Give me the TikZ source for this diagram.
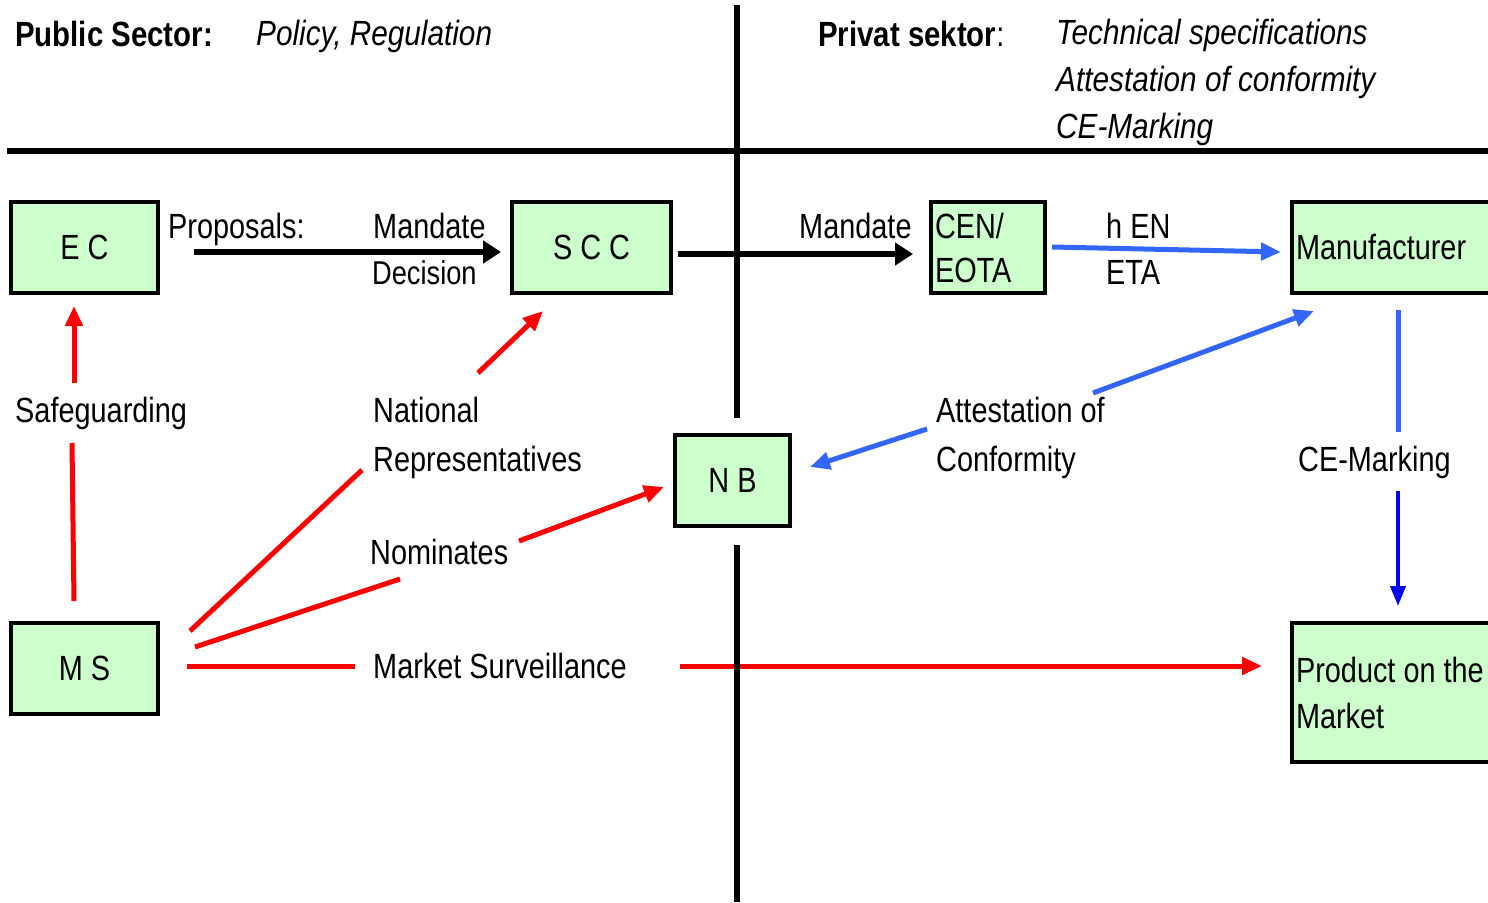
\documentclass[tikz,border=0pt]{standalone}
\usepackage{fontspec}
\setmainfont{Liberation Sans}[FakeStretch=0.825,
  BoldFeatures={FakeStretch=0.84}, ItalicFeatures={FakeStretch=0.85}]
\usetikzlibrary{arrows.meta}
\definecolor{boxgreen}{HTML}{CCFFCC}
\definecolor{linkred}{HTML}{FF0000}
\definecolor{linkblue}{HTML}{3366FF}
\definecolor{markblue}{HTML}{0000FF}
\tikzset{
  lbl/.style={inner sep=0pt, anchor=base west, font=\fontsize{35}{49}\selectfont, align=flush left},
  organ/.style={draw=black, line width=4pt, fill=boxgreen, inner sep=0pt,
                font=\fontsize{35}{44}\selectfont},
  leftorgan/.style={organ, align=flush left, inner xsep=4pt},
  divider/.style={line width=6pt, black},
  blackarrow/.style={line width=6pt, black, -{Triangle[length=18pt,width=22pt]}},
  redline/.style={line width=5pt, linkred},
  redarrow/.style={redline, -{Triangle[length=20pt,width=17pt]}},
  blueline/.style={line width=5pt, linkblue},
  bluearrow/.style={blueline, -{Triangle[length=20pt,width=17pt]}},
  markarrow/.style={line width=4pt, markblue, -{Triangle[length=20pt,width=15pt]}},
}
\begin{document}
\begin{tikzpicture}[x=1pt,y=-1pt]
\useasboundingbox (0,0) rectangle (1488,902);
\clip (0,0) rectangle (1488,902);

% headings
\node[lbl, font=\fontsize{35}{47}\selectfont\bfseries] (pubhead) at (15,46) {Public Sector:};
\node[lbl, font=\fontsize{35}{47}\selectfont\itshape] (pubtopics) at (256,45) {Policy, Regulation};
\node[lbl, font=\fontsize{35}{47}\selectfont] (privhead) at (818,46) {\textbf{Privat sektor}:};
\node[lbl, font=\fontsize{35}{47}\selectfont\itshape] (privtopics) at (1056,138)
  {Technical specifications\\Attestation of conformity\\CE-Marking};

% bodies
\node[organ, minimum width=147pt, minimum height=91pt] (ec) at (84.5,247.5) {E C};
\node[organ, minimum width=159pt, minimum height=91pt] (scc) at (591.5,247.5) {S C C};
\node[leftorgan, minimum width=114pt, minimum height=91pt, text width=106pt] (cen) at (988,247.5) {CEN/\\EOTA};
\node[leftorgan, minimum width=308pt, minimum height=91pt, text width=300pt] (manu) at (1446,247.5) {Manufacturer};
\node[organ, minimum width=115pt, minimum height=91pt] (nb) at (732.5,480.5) {N B};
\node[organ, minimum width=147pt, minimum height=91pt] (ms) at (84.5,668.5) {M S};
\node[leftorgan, minimum width=308pt, minimum height=139pt, text width=300pt,
      font=\fontsize{35}{46}\selectfont] (prod) at (1446,692.5) {Product on the\\Market};

% labels
\node[lbl] (proposals) at (168,238) {Proposals:};
\node[lbl] (mandateA) at (373,238) {Mandate};
\node[lbl, font=\fontsize{33}{40}\selectfont] (decision) at (372,284) {Decision};
\node[lbl] (mandateB) at (799,238) {Mandate};
\node[lbl] (hen) at (1106,238) {h EN};
\node[lbl] (eta) at (1106,284) {ETA};
\node[lbl] (safeguard) at (15,422) {Safeguarding};
\node[lbl] (natrep) at (373,471) {National\\Representatives};
\node[lbl] (nominates) at (370,564) {Nominates};
\node[lbl] (marketsurv) at (373,678) {Market Surveillance};
\node[lbl] (attest) at (936,471) {Attestation of\\Conformity};
\node[lbl] (cemark) at (1298,471) {CE-Marking};

% connector ends
\coordinate (propS) at (194,252);  \coordinate (propE) at (501,252);
\coordinate (mandS) at (678,254);  \coordinate (mandE) at (913,254);
\coordinate (henS) at (1052,247);  \coordinate (henE) at (1281,252);
\coordinate (safeA) at (74,383);   \coordinate (safeB) at (74,306);
\coordinate (safeC) at (72,443);   \coordinate (safeD) at (74,601);
\coordinate (natA) at (478,373);   \coordinate (natB) at (543,311);
\coordinate (natC) at (190,631);   \coordinate (natD) at (362,470);
\coordinate (nomA) at (195,647);   \coordinate (nomB) at (400,579);
\coordinate (nomC) at (519,541);   \coordinate (nomD) at (664,487);
\coordinate (survA) at (187,666);  \coordinate (survB) at (355,666);
\coordinate (survC) at (680,666);  \coordinate (survD) at (1262,666);
\coordinate (attA) at (1093,393);  \coordinate (attB) at (1314,311);
\coordinate (attC) at (927,429);   \coordinate (attD) at (810,467);
\coordinate (ceA) at (1398,310);   \coordinate (ceB) at (1398,432);
\coordinate (ceC) at (1398,491);   \coordinate (ceD) at (1398,606);
\coordinate (vTop) at (737,5);     \coordinate (vGapA) at (737,418);
\coordinate (vGapB) at (737,545);  \coordinate (vBot) at (737,902);
\coordinate (hL) at (7,151);       \coordinate (hR) at (1488,151);

% public-sector links
\draw[blackarrow] (propS) -- (propE);
\draw[redarrow] (safeA) -- (safeB);
\draw[redline] (safeC) -- (safeD);
\draw[redarrow] (natA) -- (natB);
\draw[redline] (natC) -- (natD);
\draw[redline] (nomA) -- (nomB);
\draw[redarrow] (nomC) -- (nomD);
\draw[redline] (survA) -- (survB);
\draw[redarrow] (survC) -- (survD);

% private-sector links
\draw[bluearrow] (henS) -- (henE);
\draw[bluearrow] (attA) -- (attB);
\draw[bluearrow] (attC) -- (attD);
\draw[blueline] (ceA) -- (ceB);
\draw[markarrow] (ceC) -- (ceD);

% sector dividers
\draw[divider] (hL) -- (hR);
\draw[divider] (vTop) -- (vGapA);
\draw[divider] (vGapB) -- (vBot);
\draw[blackarrow] (mandS) -- (mandE);
\end{tikzpicture}
\end{document}
